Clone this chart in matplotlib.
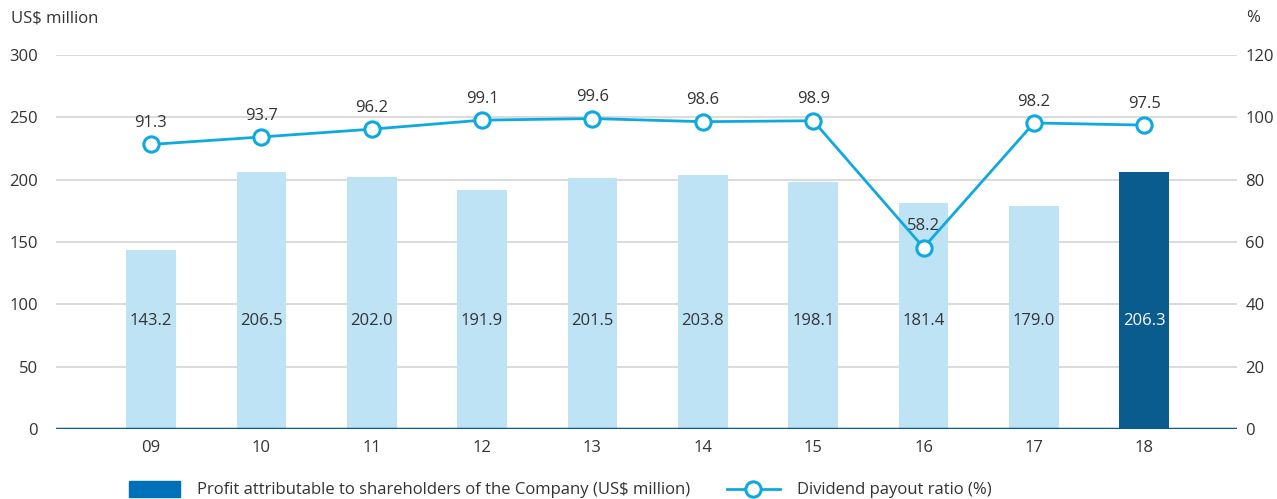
import matplotlib.pyplot as plt
import numpy as np

plt.rcParams["font.family"] = ["Open Sans", "DejaVu Sans"]

years = ["09", "10", "11", "12", "13", "14", "15", "16", "17", "18"]
profit = [143.2, 206.5, 202.0, 191.9, 201.5, 203.8, 198.1, 181.4, 179.0, 206.3]
payout = [91.3, 93.7, 96.2, 99.1, 99.6, 98.6, 98.9, 58.2, 98.2, 97.5]

light = "#bee3f4"
dark = "#0a5c8f"
cyan = "#0eaadf"
text_color = "#333333"
fs = 12

x = np.arange(len(years))
fig = plt.figure(figsize=(12.77, 4.99), dpi=100)
ax1 = fig.add_axes([0.0439, 0.1403, 0.9248, 0.7495])
ax2 = ax1.twinx()

colors = [light] * (len(years) - 1) + [dark]
ax1.bar(x, profit, width=0.45, color=colors, zorder=2)
for xi, v, c in zip(x, profit, colors):
    ax1.text(xi, 87, f"{v:.1f}", ha="center", va="center", fontsize=fs,
             color="white" if c == dark else text_color, zorder=4)

ax1.set_ylim(0, 300)
ax1.set_yticks(range(0, 301, 50))
ax1.set_xlim(-0.86, 9.84)
ax1.set_xticks(x)
ax1.set_xticklabels(years)
ax1.grid(axis="y", color="#d4d4d4", linewidth=1.2, zorder=0)
ax1.set_axisbelow(True)

ax2.plot(x, payout, color=cyan, linewidth=2, marker="o", markersize=11,
         markerfacecolor="white", markeredgecolor=cyan, markeredgewidth=2.2,
         zorder=5)
for xi, v in zip(x, payout):
    ax2.text(xi, v + 4.3, f"{v:.1f}", ha="center", va="bottom",
             fontsize=fs, color=text_color)
ax2.set_ylim(0, 120)
ax2.set_yticks(range(0, 121, 20))

for ax in (ax1, ax2):
    for s in ax.spines.values():
        s.set_visible(False)
    ax.tick_params(length=0, labelsize=fs, labelcolor=text_color)
ax1.tick_params(axis="x", pad=8)
ax1.tick_params(axis="y", pad=13)
ax2.tick_params(axis="y", pad=6)
ax1.axhline(0, color=dark, linewidth=2.5, zorder=6)

fig.text(0.009, 0.963, "US$ million", fontsize=fs, color=text_color,
         va="center", ha="left")
fig.text(0.976, 0.963, "%", fontsize=fs, color=text_color,
         va="center", ha="left")

# legend
lx = fig.add_axes([0, 0, 1, 0.08])
lx.set_xlim(0, 1277)
lx.set_ylim(0, 40)
lx.axis("off")
lx.add_patch(plt.Rectangle((129, 2), 51, 16, color="#0070b8"))
lx.text(197, 9, "Profit attributable to shareholders of the Company (US$ million)",
        fontsize=fs, color=text_color, va="center")
lx.plot([727, 780], [10, 10], color=cyan, linewidth=2)
lx.plot([753], [10], marker="o", markersize=11, markerfacecolor="white",
        markeredgecolor=cyan, markeredgewidth=2.2)
lx.text(797, 9, "Dividend payout ratio (%)", fontsize=fs,
        color=text_color, va="center")

fig.savefig("out.png", dpi=100)
